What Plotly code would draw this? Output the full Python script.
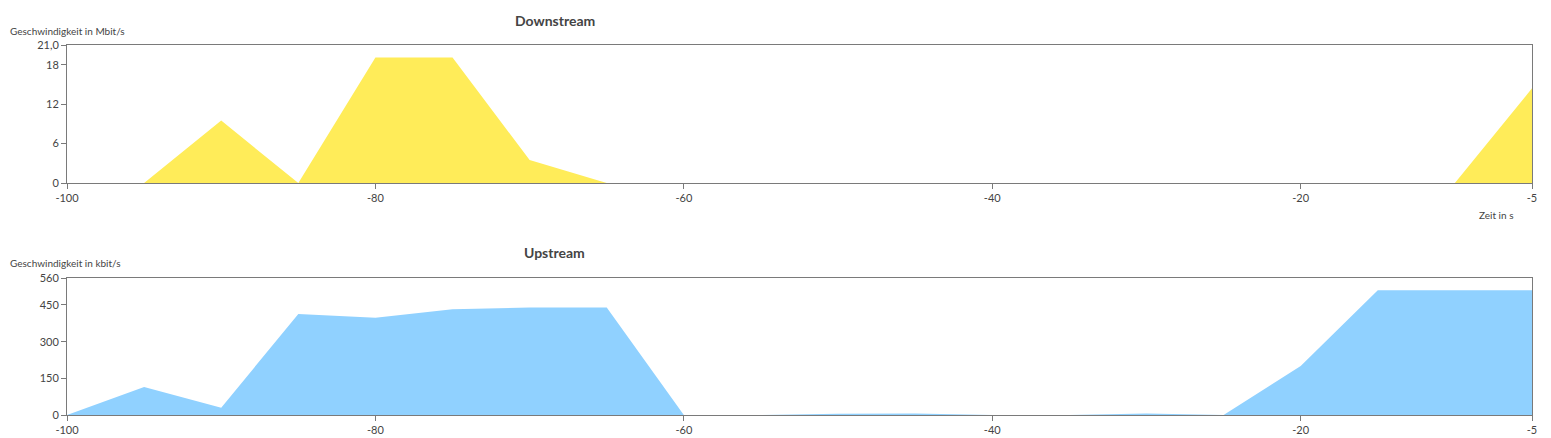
import plotly.graph_objects as go
from plotly.subplots import make_subplots

# Zeitachse in Sekunden
zeit = [-100, -95, -90, -85, -80, -75, -70, -65, -60, -55, -50, -45, -40, -35, -30, -25, -20, -15, -10, -5]

# Downstream in Mbit/s
downstream = [0, 0, 9.5, 0, 19.1, 19.1, 3.5, 0, 0, 0, 0, 0, 0, 0, 0, 0, 0, 0, 0, 14.4]

# Upstream in kbit/s
upstream = [0, 115, 30, 413, 398, 433, 440, 440, 0, 0, 5, 6, 0, 0, 6, 0, 200, 510, 510, 510]

down_ticks = [0, 6, 12, 18, 21]
down_ticktext = ['0', '6', '12', '18', '21,0']
up_ticks = [0, 150, 300, 450, 560]
x_ticks = [-100, -80, -60, -40, -20, -5]
x_ticktext = ['-100', '-80', '-60', '-40', '-20', '-5']

COLOR_DOWN = 'rgb(255,236,89)'
COLOR_UP = 'rgb(144,209,255)'
AXIS_COLOR = '#7a7a7a'
TEXT_COLOR = '#444444'
FONT = 'Lato, "Noto Sans", sans-serif'

fig = make_subplots(rows=2, cols=1, vertical_spacing=0.257)

fig.add_trace(go.Scatter(x=zeit, y=downstream, mode='lines', fill='tozeroy',
                         line=dict(color=COLOR_DOWN, width=0), fillcolor=COLOR_DOWN,
                         showlegend=False), row=1, col=1)
fig.add_trace(go.Scatter(x=zeit, y=upstream, mode='lines', fill='tozeroy',
                         line=dict(color=COLOR_UP, width=0), fillcolor=COLOR_UP,
                         showlegend=False), row=2, col=1)

axis_common = dict(showline=True, linecolor=AXIS_COLOR, linewidth=1, mirror=True,
                   showgrid=False, zeroline=False, ticks='outside', ticklen=5,
                   tickcolor=AXIS_COLOR, automargin=False,
                   tickfont=dict(size=11, color=TEXT_COLOR, family=FONT))

fig.update_xaxes(range=[-100, -5], tickvals=x_ticks, ticktext=x_ticktext, **axis_common)
fig.update_yaxes(**axis_common)
fig.update_yaxes(range=[0, 21], tickvals=down_ticks, ticktext=down_ticktext, row=1, col=1)
fig.update_yaxes(range=[0, 560], tickvals=up_ticks, ticktext=[str(v) for v in up_ticks], row=2, col=1)
fig.update_layout(xaxis=dict(domain=[0, 1]), yaxis=dict(domain=[0.627, 1]),
                  yaxis2=dict(domain=[0, 0.370]))

annotations = [
    dict(text='<b>Downstream</b>', x=0.333, y=1.065, font=dict(size=14)),
    dict(text='<b>Upstream</b>', x=0.333, y=0.438, font=dict(size=14)),
    dict(text='Geschwindigkeit in Mbit/s', x=-0.0400, y=1.038, xanchor='left', font=dict(size=10)),
    dict(text='Geschwindigkeit in kbit/s', x=-0.0400, y=0.411, xanchor='left', font=dict(size=10)),
    dict(text='Zeit in s', x=0.9755, y=0.54, font=dict(size=10)),
]
for a in annotations:
    a.setdefault('xanchor', 'center')
    a.update(xref='paper', yref='paper', showarrow=False, yanchor='middle')
    a['font'] = dict(a['font'], color=TEXT_COLOR, family=FONT)

# page body adds an 8px margin, so the figure is sized to fit the window
fig.update_layout(
    width=1543,
    height=430,
    margin=dict(l=59, r=19, t=37, b=23),
    plot_bgcolor='white',
    paper_bgcolor='white',
    font=dict(family=FONT, color=TEXT_COLOR),
    annotations=annotations,
)

fig.write_html("out.html")
